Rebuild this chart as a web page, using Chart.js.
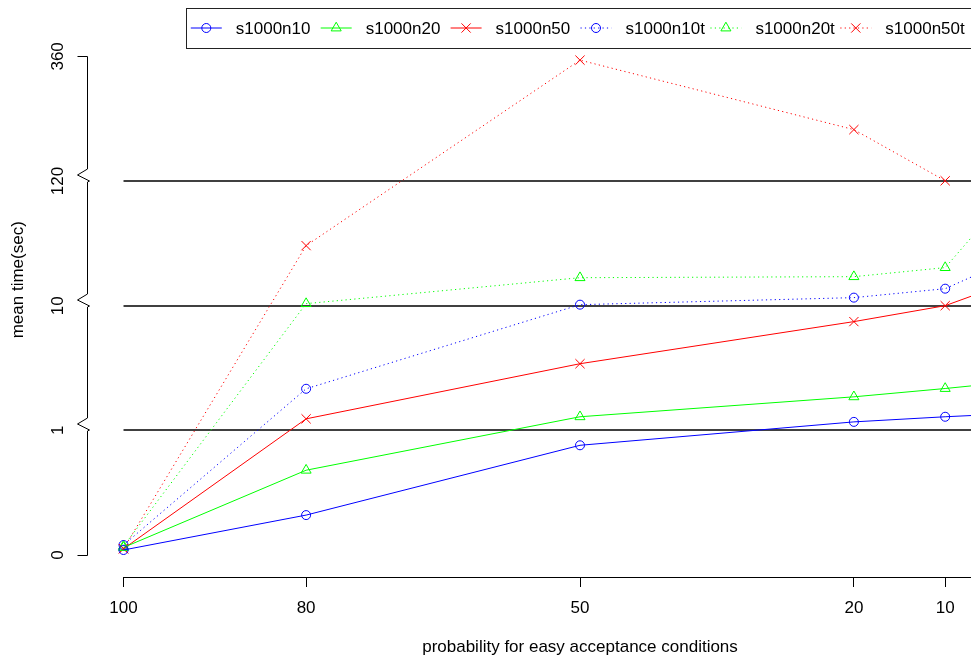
<!DOCTYPE html>
<html>
<head>
<meta charset="utf-8">
<title>mean time</title>
<script src="https://cdn.jsdelivr.net/npm/chart.js@4/dist/chart.umd.min.js"></script>
<style>
  body { margin: 0; background: #fff; }
  #wrap { position: relative; width: 971px; height: 659px; overflow: hidden; }
  #chart { position: absolute; left: 0; top: -25px; }
</style>
</head>
<body>
<div id="wrap"><canvas id="chart" width="1160" height="684"></canvas></div>
<script>
// x values (probability) and the broken y axis break points
const probabilities = [100, 80, 50, 20, 10, 0];
const axisTicks = [0, 1, 10, 120, 360];

// mean time (sec)
const s1000n10 = [0.04, 0.32, 0.88, 1.61, 1.98, 2.29];
const s1000n20 = [0.06, 0.68, 1.98, 3.42, 4.02, 4.68];
const s1000n50 = [0.05, 1.83, 5.81, 8.85, 10.0, 39.3];
const s1000n10t = [0.08, 4.0, 10.9, 17.1, 25.0, 61.0];
const s1000n20t = [0.07, 11.8, 34.7, 35.6, 43.6, 155.6];
const s1000n50t = [0.05, 63.0, 352.8, 219.0, 120.5, null];

const FONT = "'Liberation Sans', Arial, Helvetica, sans-serif";
Chart.defaults.font.family = FONT;
Chart.defaults.font.size = 17;
Chart.defaults.color = "#000";

// each segment between two break points takes one unit on the axis
function toAxis(v) {
  if (v === null) return null;
  for (let i = 0; i < axisTicks.length - 1; i++) {
    if (v <= axisTicks[i + 1] || i === axisTicks.length - 2) {
      return i + (v - axisTicks[i]) / (axisTicks[i + 1] - axisTicks[i]);
    }
  }
}

function makeSeries(label, values, color, pointStyle, radius, dotted) {
  return {
    label: label,
    data: probabilities.map((p, i) => ({ x: p, y: toAxis(values[i]) })),
    borderColor: color,
    backgroundColor: "rgba(0,0,0,0)",
    borderWidth: 1,
    borderDash: dotted ? [1.2, 3.2] : [],
    pointStyle: pointStyle,
    pointRadius: radius,
    pointHoverRadius: radius,
    pointBorderColor: color,
    pointBackgroundColor: "rgba(0,0,0,0)",
    pointBorderWidth: 1,
    tension: 0,
    spanGaps: false,
  };
}

const datasets = [
  makeSeries("s1000n10", s1000n10, "#0000ff", "circle", 4.5, false),
  makeSeries("s1000n20", s1000n20, "#00ff00", "triangle", 5.8, false),
  makeSeries("s1000n50", s1000n50, "#ff0000", "crossRot", 6.5, false),
  makeSeries("s1000n10t", s1000n10t, "#0000ff", "circle", 4.5, true),
  makeSeries("s1000n20t", s1000n20t, "#00ff00", "triangle", 5.8, true),
  makeSeries("s1000n50t", s1000n50t, "#ff0000", "crossRot", 6.5, true),
];

function drawMarker(ctx, style, radius, x, y) {
  if (Chart.helpers && Chart.helpers.drawPoint) {
    Chart.helpers.drawPoint(ctx, { pointStyle: style, radius: radius, borderWidth: 1, rotation: 0 }, x, y);
    return;
  }
  ctx.beginPath();
  ctx.arc(x, y, radius, 0, Math.PI * 2);
  ctx.stroke();
}

const rAxesPlugin = {
  id: "rAxes",
  beforeDatasetsDraw(chart) {
    const { ctx, chartArea, scales } = chart;
    const left = scales.x.getPixelForValue(probabilities[0]);
    ctx.save();
    ctx.strokeStyle = "#000";
    ctx.lineWidth = 1.5;
    for (let i = 1; i < axisTicks.length - 1; i++) {
      const py = Math.round(scales.y.getPixelForValue(i));
      ctx.beginPath();
      ctx.moveTo(left, py);
      ctx.lineTo(chartArea.right, py);
      ctx.stroke();
    }
    ctx.restore();
  },
  afterDraw(chart) {
    const { ctx, chartArea, scales } = chart;
    const x = scales.x;
    const y = scales.y;
    ctx.save();
    ctx.strokeStyle = "#000";
    ctx.lineWidth = 1;

    // y axis with zigzag breaks
    const ax = Math.round(chartArea.left) + 0.5;
    const last = axisTicks.length - 1;
    const pTop = Math.round(y.getPixelForValue(last)) + 0.5;
    const pBottom = Math.round(y.getPixelForValue(0)) + 0.5;
    ctx.beginPath();
    ctx.moveTo(ax, pTop);
    for (let i = last - 1; i > 0; i--) {
      const p = Math.round(y.getPixelForValue(i));
      ctx.lineTo(ax, p - 12);
      ctx.lineTo(ax - 10, p - 6);
      ctx.lineTo(ax + 2, p);
      ctx.lineTo(ax, p + 1);
    }
    ctx.lineTo(ax, pBottom);
    ctx.moveTo(ax - 10, pTop);
    ctx.lineTo(ax, pTop);
    ctx.moveTo(ax - 10, pBottom);
    ctx.lineTo(ax, pBottom);
    ctx.stroke();

    // x axis line from first to last tick
    const ay = Math.round(chartArea.bottom) + 0.5;
    ctx.beginPath();
    ctx.moveTo(x.getPixelForValue(probabilities[0]), ay);
    ctx.lineTo(x.getPixelForValue(probabilities[probabilities.length - 1]), ay);
    ctx.stroke();

    // legend box, R style
    ctx.font = "17px " + FONT;
    const items = chart.data.datasets;
    const maxW = Math.max(...items.map(d => ctx.measureText(d.label).width));
    const step = 45 + maxW + 5.5;
    const boxW = step * items.length + 9;
    const cx = (chartArea.left + chartArea.right) / 2;
    const boxL = cx - boxW / 2;
    const top = 33;
    const h = 40;
    const my = top + h / 2;
    ctx.strokeStyle = "#222";
    ctx.strokeRect(Math.round(boxL) + 0.5, top + 0.5, Math.round(boxW), h);

    items.forEach((d, i) => {
      const sx = boxL + 5 + i * step;
      ctx.strokeStyle = d.borderColor;
      ctx.setLineDash(d.borderDash);
      ctx.beginPath();
      ctx.moveTo(sx, my);
      ctx.lineTo(sx + 31, my);
      ctx.stroke();
      ctx.setLineDash([]);
      ctx.fillStyle = "rgba(0,0,0,0)";
      drawMarker(ctx, d.pointStyle, d.pointRadius, sx + 15.5, my);
      ctx.fillStyle = "#000";
      ctx.textAlign = "left";
      ctx.textBaseline = "middle";
      ctx.fillText(d.label, sx + 45, my + 1);
    });
    ctx.restore();
  },
};

const canvas = document.getElementById("chart");
new Chart(canvas.getContext("2d"), {
  type: "line",
  data: { datasets: datasets },
  plugins: [rAxesPlugin],
  options: {
    responsive: false,
    animation: false,
    layout: { padding: { left: 0, right: 87, top: 0, bottom: 0 } },
    plugins: {
      legend: { display: false },
      tooltip: { enabled: false },
    },
    scales: {
      x: {
        type: "linear",
        reverse: true,
        min: -4,
        max: 104,
        afterBuildTicks: (scale) => {
          scale.ticks = probabilities.map(v => ({ value: v }));
        },
        afterFit: (scale) => {
          scale.height = 82;
          scale.paddingLeft = 0;
          scale.paddingRight = 0;
        },
        ticks: {
          autoSkip: false,
          maxRotation: 0,
          padding: 11,
          color: "#000",
          font: { size: 17 },
          callback: (value) => String(value),
        },
        grid: {
          display: true,
          drawOnChartArea: false,
          drawTicks: true,
          tickLength: 10,
          color: "#000",
          lineWidth: 1,
        },
        border: { display: false },
        title: {
          display: true,
          text: "probability for easy acceptance conditions",
          color: "#000",
          font: { size: 17 },
          padding: { top: 0, bottom: 1 },
        },
      },
      y: {
        type: "linear",
        min: -0.1767,
        max: 4.5928,
        afterBuildTicks: (scale) => {
          scale.ticks = axisTicks.map((_, i) => ({ value: i }));
        },
        afterFit: (scale) => {
          scale.width = 87;
          scale.paddingTop = 0;
          scale.paddingBottom = 0;
        },
        ticks: {
          autoSkip: false,
          minRotation: 90,
          maxRotation: 90,
          crossAlign: "center",
          padding: 15,
          color: "#000",
          font: { size: 17 },
          callback: (value) => String(axisTicks[value]),
        },
        grid: { display: false, drawTicks: false },
        border: { display: false },
        title: {
          display: true,
          text: "mean time(sec)",
          color: "#000",
          font: { size: 17 },
          padding: { top: 8, bottom: 0 },
        },
      },
    },
  },
});
</script>
</body>
</html>
